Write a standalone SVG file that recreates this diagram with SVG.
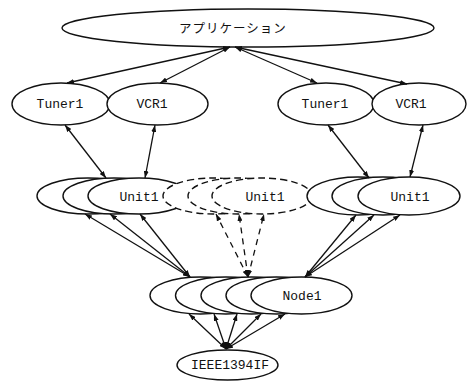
<svg xmlns="http://www.w3.org/2000/svg" width="469" height="382" viewBox="0 0 469 382">
  <style>
    .n { fill: #fff; stroke: #111; stroke-width: 1.4; }
    .d { fill: #fff; stroke: #111; stroke-width: 1.4; stroke-dasharray: 7 4; }
    .t { font-family: "Liberation Mono", "Courier New", monospace; font-size: 13px; fill: #111; text-anchor: middle; }
    .j { font-family: "Noto Sans CJK JP", sans-serif; font-size: 12.5px; fill: #111; text-anchor: middle; letter-spacing: 1px; }
    .c line { stroke: #111; stroke-width: 1.3; marker-start: url(#ah); marker-end: url(#ah); }
    .c .dl { stroke-dasharray: 6 5; }
  </style>
  <defs>
    <marker id="ah" viewBox="0 0 7 5" refX="7" refY="2.5" markerWidth="7" markerHeight="5" markerUnits="userSpaceOnUse" orient="auto-start-reverse">
      <path d="M0,0 L7,2.5 L0,5 z" fill="#111"/>
    </marker>
  </defs>

  <!-- application -->
  <g id="app">
    <ellipse class="n" cx="248" cy="28" rx="186" ry="19"/>
    <text class="j" x="233" y="33">アプリケーション</text>
  </g>

  <!-- device objects, left -->
  <g id="tuner-left">
    <ellipse class="n" cx="61" cy="104" rx="49" ry="21"/>
    <text class="t" x="60" y="108">Tuner1</text>
  </g>
  <g id="vcr-left">
    <ellipse class="n" cx="157.5" cy="104" rx="50.5" ry="21"/>
    <text class="t" x="152" y="108">VCR1</text>
  </g>

  <!-- device objects, right -->
  <g id="tuner-right">
    <ellipse class="n" cx="326" cy="104" rx="48" ry="21"/>
    <text class="t" x="325" y="108">Tuner1</text>
  </g>
  <g id="vcr-right">
    <ellipse class="n" cx="419" cy="104" rx="47" ry="21"/>
    <text class="t" x="411" y="108">VCR1</text>
  </g>

  <!-- unit stacks -->
  <g id="unit-left">
    <ellipse class="n" cx="88" cy="196" rx="51" ry="18"/>
    <ellipse class="n" cx="114" cy="196" rx="51" ry="18"/>
    <ellipse class="n" cx="139" cy="196" rx="51" ry="18"/>
    <text class="t" x="139" y="201">Unit1</text>
  </g>
  <g id="unit-mid">
    <ellipse class="d" cx="213" cy="196" rx="50" ry="18"/>
    <ellipse class="d" cx="238" cy="196" rx="50" ry="18"/>
    <ellipse class="d" cx="262" cy="196" rx="50" ry="18"/>
    <text class="t" x="265" y="201">Unit1</text>
  </g>
  <g id="unit-right">
    <ellipse class="n" cx="358" cy="196" rx="51" ry="19"/>
    <ellipse class="n" cx="383" cy="196" rx="51" ry="19"/>
    <ellipse class="n" cx="409" cy="196" rx="51" ry="19"/>
    <text class="t" x="410" y="201">Unit1</text>
  </g>

  <!-- node stack -->
  <g id="node">
    <ellipse class="n" cx="200.5" cy="295.5" rx="50.5" ry="18.5"/>
    <ellipse class="n" cx="226" cy="295.5" rx="50.5" ry="18.5"/>
    <ellipse class="n" cx="251.5" cy="295.5" rx="50.5" ry="18.5"/>
    <ellipse class="n" cx="276.5" cy="295.5" rx="50.5" ry="18.5"/>
    <ellipse class="n" cx="301.5" cy="295.5" rx="50.5" ry="18.5"/>
    <text class="t" x="302" y="300">Node1</text>
  </g>

  <!-- 1394 interface -->
  <g id="ieee1394if">
    <ellipse class="n" cx="227.5" cy="365" rx="50.5" ry="15"/>
    <text class="t" x="230" y="369">IEEE1394IF</text>
  </g>

  <!-- connectors -->
  <g id="connectors" class="c">
    <line x1="230" y1="47" x2="67" y2="83"/>
    <line x1="230" y1="47" x2="160" y2="83"/>
    <line x1="235" y1="47" x2="317" y2="83"/>
    <line x1="235" y1="47" x2="407" y2="84"/>

    <line x1="65" y1="125" x2="106" y2="178"/>
    <line x1="155" y1="125" x2="145" y2="178"/>
    <line x1="328" y1="125" x2="369" y2="178"/>
    <line x1="423" y1="125" x2="410" y2="177"/>

    <line x1="190" y1="277" x2="85" y2="214"/>
    <line x1="190" y1="277" x2="110" y2="214"/>
    <line x1="190" y1="277" x2="140" y2="214"/>

    <line class="dl" x1="248" y1="277" x2="216" y2="214"/>
    <line class="dl" x1="248" y1="277" x2="239" y2="214"/>
    <line class="dl" x1="248" y1="277" x2="264" y2="214"/>

    <line x1="305" y1="277" x2="356" y2="215"/>
    <line x1="305" y1="277" x2="374" y2="215"/>
    <line x1="305" y1="277" x2="400" y2="215"/>

    <line x1="226" y1="349" x2="189" y2="314"/>
    <line x1="226" y1="349" x2="214" y2="314"/>
    <line x1="226" y1="349" x2="237" y2="314"/>
    <line x1="226" y1="349" x2="261" y2="314"/>
    <line x1="226" y1="349" x2="285" y2="314"/>
  </g>
</svg>
